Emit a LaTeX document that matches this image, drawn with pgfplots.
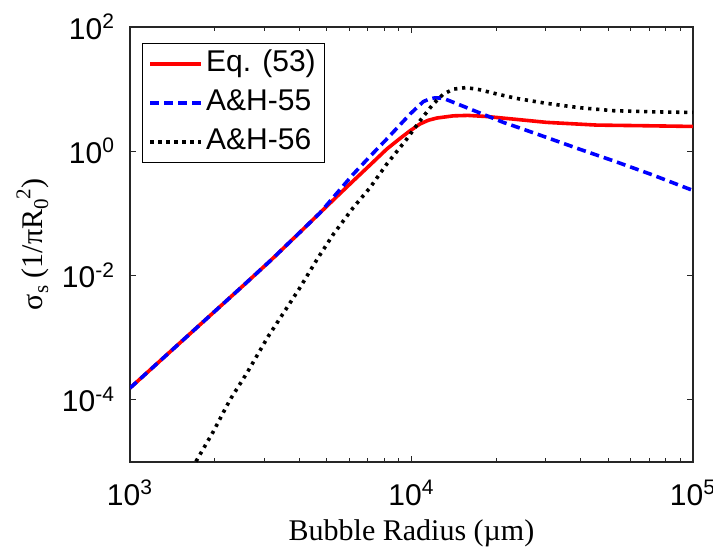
\documentclass[border=0pt]{standalone}
\usepackage{fontspec}
\setmainfont{Liberation Sans}
\newfontfamily\serif{Liberation Serif}
\usepackage{pgfplots}
\pgfplotsset{compat=1.18}
\begin{document}
\begin{tikzpicture}
\path[use as bounding box] (-65pt,-45pt) rectangle (291.5pt,231pt);
\begin{axis}[
  scale only axis,
  width=281.5pt, height=217.5pt,
  xmode=log, ymode=log,
  xmin=1000, xmax=100000, ymin=1e-5, ymax=100,
  xtick={1000,10000,100000},
  xticklabels={10\textsuperscript{3},10\textsuperscript{4},10\textsuperscript{5}},
  minor xtick={2000,3000,4000,5000,6000,7000,8000,9000,20000,30000,40000,50000,60000,70000,80000,90000},
  ytick={1e-4,1e-2,1,100},
  yticklabels={10\textsuperscript{-4},10\textsuperscript{-2},10\textsuperscript{0},10\textsuperscript{2}},
  minor ytick={},
  tick align=inside,
  major tick length=3pt, minor tick length=1.8pt,
  tick style={black!85, line width=0.5pt},
  axis line style={black!85, line width=0.6pt},
  every tick label/.append style={font=\fontsize{15}{18}\selectfont},
  xticklabel style={anchor=base, yshift=-21.5pt},
  yticklabel style={anchor=base east, xshift=-4pt, yshift=-6pt},
  xlabel={\serif Bubble Radius (µm)},
  ylabel={\serif σ\raisebox{-0.45ex}{\fontsize{10.5}{12}\selectfont s} (1/πR\raisebox{-0.45ex}{\fontsize{10.5}{12}\selectfont 0}\raisebox{0.85ex}{\fontsize{10.5}{12}\selectfont 2})},
  every axis x label/.style={at={([yshift=-39pt]axis description cs:0.5,0)}, anchor=base, font=\fontsize{15}{18}\selectfont},
  every axis y label/.style={at={([xshift=-44pt]axis description cs:0,0.5)}, rotate=90, anchor=base, font=\fontsize{15}{18}\selectfont},
  legend cell align=left,
  legend style={at={(0.0213,0.963)}, anchor=north west, draw=black, line width=0.6pt,
    font=\fontsize{15}{18}\selectfont, inner xsep=3pt, inner ysep=2pt, row sep=3pt,
    nodes={inner sep=1.5pt, text height=10.5pt, text depth=3pt}},
  legend image code/.code={\draw[#1] (0pt,0pt) -- (25.5pt,0pt);},
]
\addplot[red, line width=1.8pt, line join=round] coordinates {
(1000,1.549e-4) (1258.9,3.98e-4) (1584.9,1.023e-3) (1995.3,2.63e-3) (2511.9,6.76e-3)
(3162.3,1.758e-2) (3981,4.79e-2) (4732,0.1023) (5370,0.178) (6209,0.334) (7129,0.603)
(8166,1.084) (9120,1.62) (9886,2.14) (10715,2.75) (11482,3.16) (12303,3.43) (14093,3.72)
(15849,3.78) (18493,3.63) (24266,3.22) (30200,2.92) (45499,2.64) (66681,2.58)
(100000,2.51)
};
\addlegendentry{Eq. (53)}
\addplot[blue, line width=1.8pt, line join=round, dash pattern=on 4.5pt off 2.5pt] coordinates {
(1000,1.549e-4) (1258.9,3.98e-4) (1584.9,1.023e-3) (1995.3,2.63e-3) (2511.9,6.76e-3)
(3162.3,1.758e-2) (3981,4.79e-2) (4732,0.1023) (5370,0.1995) (6209,0.428) (7129,0.832)
(8166,1.574) (9120,2.69) (9886,3.98) (11015,6.31) (11550,6.9) (12106,7.24) (12600,7.2) (13183,6.92)
(16144,4.79) (21184,2.92) (23933,2.42) (30200,1.67) (39811,1.07) (52119,0.703)
(70795,0.427) (100000,0.234)
};
\addlegendentry{A\&H-55}
\addplot[black, line width=1.8pt, line join=round, dash pattern=on 1.6pt off 2.4pt] coordinates {
(1660,7.9e-6) (1977,3.09e-5) (2265,1.0e-4) (2600,2.69e-4) (3097,1.05e-3)
(3981,6.0e-3) (4603,1.78e-2) (5272,4.6e-2) (6209,0.124) (7129,0.261)
(8166,0.622) (9616,1.57) (10715,3.09) (11940,5.77) (12972,8.32) (14093,10.0)
(15668,10.6) (17498,9.77) (20091,8.36) (23659,7.08) (30200,5.90) (39811,5.01)
(52119,4.50) (70795,4.32) (100000,4.22)
};
\addlegendentry{A\&H-56}
\end{axis}
\end{tikzpicture}
\end{document}
